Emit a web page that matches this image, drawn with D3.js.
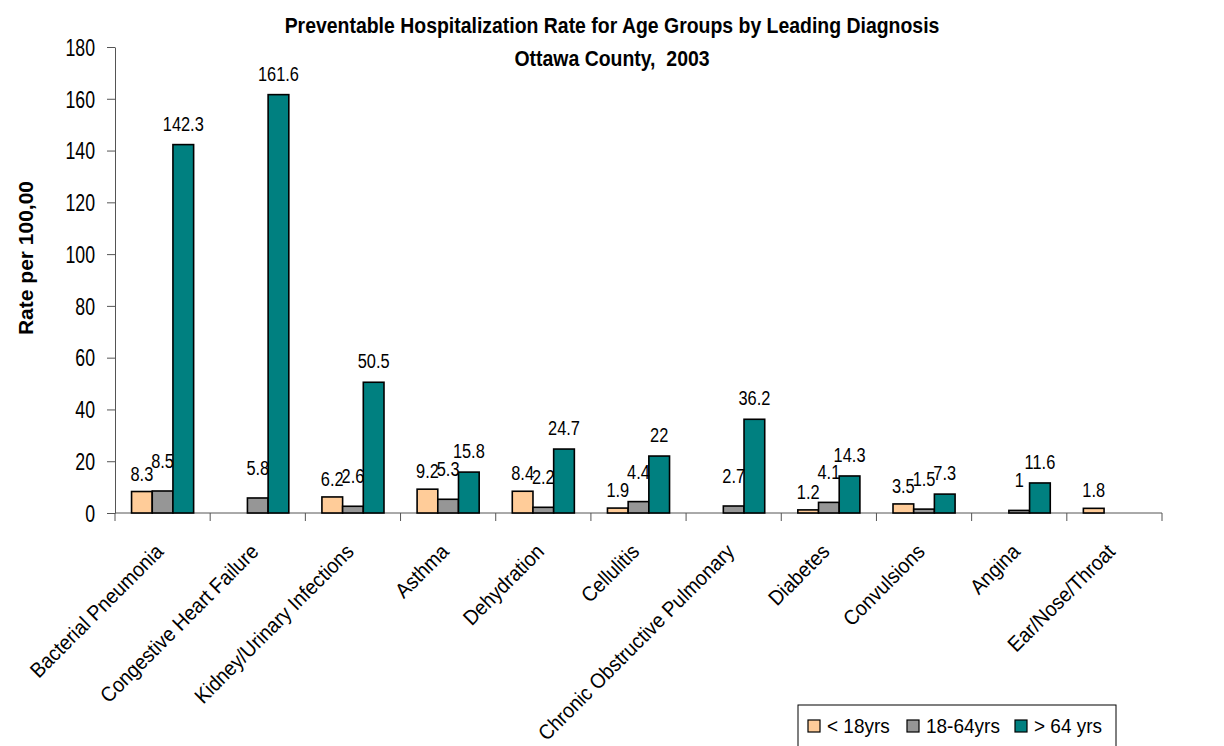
<!DOCTYPE html>
<html>
<head>
<meta charset="utf-8">
<script src="https://cdn.jsdelivr.net/npm/d3@7"></script>
<style>
    body { margin: 0; background: white; }
    svg text { font-family: "Liberation Sans", Arial, sans-serif; fill: black; }
</style>
</head>
<body>
<svg id="chart" width="1224" height="746"></svg>
<script>
// chart values
const categories = ['Bacterial Pneumonia', 'Congestive Heart Failure', 'Kidney/Urinary Infections', 'Asthma',
    'Dehydration', 'Cellulitis', 'Chronic Obstructive Pulmonary', 'Diabetes', 'Convulsions', 'Angina', 'Ear/Nose/Throat'];
const series = ['< 18yrs', '18-64yrs', '> 64 yrs'];
const under_18 = [8.3, null, 6.2, 9.2, 8.4, 1.9, null, 1.2, 3.5, null, 1.8];
const age_18_64 = [8.5, 5.8, 2.6, 5.3, 2.2, 4.4, 2.7, 4.1, 1.5, 1, null];
const over_64 = [142.3, 161.6, 50.5, 15.8, 24.7, 22, 36.2, 14.3, 7.3, 11.6, null];
const y_ticks = [0, 20, 40, 60, 80, 100, 120, 140, 160, 180];
const colors = ['#ffcc99', '#969696', '#008080'];

const values = [under_18, age_18_64, over_64];

const margin = {top: 47, left: 115, right: 62, bottom: 233};
const width = 1224, height = 746;
const axis_color = '#555';
const label_gap = [11, 23, 14];   // data labels sit a little higher for the middle series, like the original

const svg = d3.select('#chart');

// squeeze a text horizontally to mimic the narrow face of the original
function squeeze(sel, sx) {
    sel.each(function () {
        const t = d3.select(this);
        const old = t.attr('transform') || '';
        t.attr('transform', `${old} scale(${sx},1)`);
    });
}

const x0 = d3.scaleBand().domain(categories).range([margin.left, width - margin.right]).padding(0);
const x1 = d3.scaleBand().domain(series).range([0, x0.bandwidth()]).paddingInner(0).paddingOuter(0.8);
const y = d3.scaleLinear().domain([0, 180]).range([height - margin.bottom, margin.top]);

// y axis
const y_axis = svg.append('g').attr('transform', `translate(${margin.left},0)`)
    .call(d3.axisLeft(y).tickValues(y_ticks).tickSizeInner(8).tickSizeOuter(0).tickPadding(18));
y_axis.selectAll('text').style('font-size', '23px').attr('dy', '0.36em').call(squeeze, 0.77);
y_axis.selectAll('line, path').attr('stroke', axis_color);

// x axis: ticks sit on the category boundaries
const x_axis = svg.append('g').attr('transform', `translate(0,${y(0)})`);
x_axis.append('line')
    .attr('x1', x0.range()[0]).attr('x2', x0.range()[1])
    .attr('stroke', axis_color);
const boundaries = categories.map(c => x0(c)).concat([x0.range()[1]]);
x_axis.selectAll('.tick').data(boundaries).join('line')
    .attr('class', 'tick')
    .attr('x1', d => d).attr('x2', d => d)
    .attr('y1', 0).attr('y2', 8)
    .attr('stroke', axis_color);
x_axis.selectAll('.cat').data(categories).join('text')
    .attr('class', 'cat')
    .attr('text-anchor', 'end')
    .attr('transform', d => `translate(${x0(d) + x0.bandwidth() / 2 + 2},${40}) rotate(-45)`)
    .style('font-size', '21px')
    .text(d => d)
    .call(squeeze, 0.92);

// bars
const rows = [];
categories.forEach((c, i) => {
    series.forEach((s, j) => {
        if (values[j][i] !== null) rows.push({c, s, j, v: values[j][i]});
    });
});

const bars = svg.append('g');
bars.selectAll('rect').data(rows).join('rect')
    .attr('x', d => x0(d.c) + x1(d.s))
    .attr('y', d => y(d.v))
    .attr('width', x1.bandwidth())
    .attr('height', d => y(0) - y(d.v))
    .attr('fill', d => colors[d.j])
    .attr('stroke', 'black')
    .attr('stroke-width', 1.6);

bars.selectAll('text').data(rows).join('text')
    .attr('transform', d => `translate(${x0(d.c) + x1(d.s) + x1.bandwidth() / 2},${y(d.v) - label_gap[d.j]})`)
    .attr('text-anchor', 'middle')
    .style('font-size', '21px')
    .text(d => d.v)
    .call(squeeze, 0.78);

// titles
const title = svg.append('g').attr('transform', 'translate(612,0)');
const t1 = title.append('text').attr('y', 33).attr('text-anchor', 'middle')
    .style('font-size', '22px').style('font-weight', 'bold')
    .text('Preventable Hospitalization Rate for Age Groups by Leading Diagnosis');
const t2 = title.append('text').attr('y', 66).attr('text-anchor', 'middle')
    .style('font-size', '22px').style('font-weight', 'bold')
    .style('white-space', 'pre')
    .text('Ottawa County,  2003');
const title_scale = 655 / t1.node().getComputedTextLength();
t1.call(squeeze, title_scale);
t2.call(squeeze, title_scale);

svg.append('text')
    .attr('transform', `translate(33,258) rotate(-90)`)
    .attr('text-anchor', 'middle')
    .style('font-size', '21px').style('font-weight', 'bold')
    .text('Rate per 100,00');

// legend
const legend = svg.append('g').attr('transform', 'translate(798,705)');
legend.append('rect').attr('width', 318).attr('height', 50)
    .attr('fill', 'white').attr('stroke', 'black').attr('stroke-width', 1);
const legend_x = [10, 109, 217];
series.forEach((s, j) => {
    const item = legend.append('g').attr('transform', `translate(${legend_x[j]},15)`);
    item.append('rect').attr('width', 12).attr('height', 12)
        .attr('fill', colors[j]).attr('stroke', 'black').attr('stroke-width', 1.2);
    item.append('text').attr('x', 20).attr('y', 13)
        .style('font-size', '20px')
        .text(s)
        .call(squeeze, 0.95);
});
</script>
</body>
</html>
